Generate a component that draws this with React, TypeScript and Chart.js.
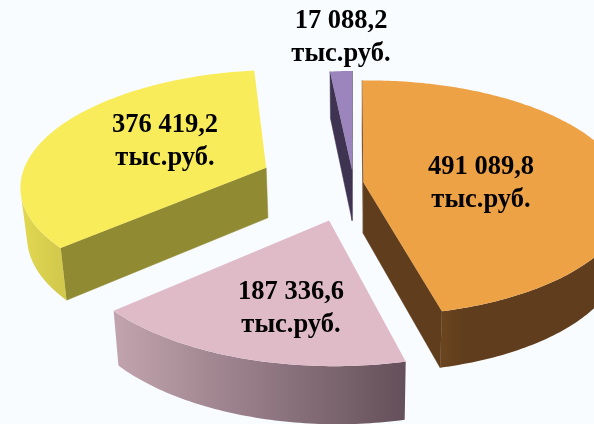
import React, { useEffect, useRef } from "react";
import { Chart, registerables } from "chart.js";

Chart.register(...registerables);

// Data (тыс.руб.)
const categories = ["Оранжевый", "Розовый", "Жёлтый", "Фиолетовый"];
const values = [491089.8, 187336.6, 376419.2, 17088.2];
const unitLabel = "тыс.руб.";

// Styles
const topColors = ["#EEA246", "#DFBBC8", "#F9EC5A", "#9C85BC"];
const radialColors = ["#603D1D", "#8C7680", "#908A33", "#3F3352"];
const wallStops = [
  ["#6A451F", "#603D1D"],
  ["#C2A4AE", "#64505A"],
  ["#E2D850", "#D2C94D"],
  ["#3F3352", "#3F3352"],
];
const wallFade = [0.12, 1, 1, 1];
const explode = [10, 83, 96, 29];
const labelCenters = [
  [481, 183],
  [291, 308],
  [165, 141],
  [341, 37],
];

const W = 594;
const H = 424;
const BG = "#F8FCFF";
const VIEW = { cx: 353.5, cy: 183, radius: 256, tilt: 0.4516, dist: 1925, sideDist: 11000, depth: 51, shrink: 0.98 };

function project(X: number, Z: number, lower: boolean): [number, number] {
  const s = 1 / (1 - Z / VIEW.dist - X / VIEW.sideDist);
  const f = lower ? VIEW.shrink : 1;
  return [
    VIEW.cx + X * s * f,
    VIEW.cy + VIEW.tilt * Z * s * f + (lower ? VIEW.depth * s : 0),
  ];
}

function area(pts: [number, number][]) {
  let a = 0;
  for (let i = 0; i < pts.length; i++) {
    const p = pts[i];
    const q = pts[(i + 1) % pts.length];
    a += p[0] * q[1] - q[0] * p[1];
  }
  return a / 2;
}

function fillPoly(ctx: CanvasRenderingContext2D, pts: [number, number][], fill: any) {
  ctx.beginPath();
  pts.forEach((p, i) => (i ? ctx.lineTo(p[0], p[1]) : ctx.moveTo(p[0], p[1])));
  ctx.closePath();
  ctx.fillStyle = fill;
  ctx.fill();
}

function formatValue(v: number) {
  const [a, b] = v.toFixed(1).split(".");
  return a.replace(/\B(?=(\d{3})+$)/g, " ") + "," + b;
}

const pie3d = {
  id: "pie3d",
  beforeDatasetsDraw(chart: any) {
    const ctx: CanvasRenderingContext2D = chart.ctx;
    const arcs = chart.getDatasetMeta(0).data;
    ctx.save();
    ctx.fillStyle = BG;
    ctx.fillRect(0, 0, W, H);
    [3, 2, 0, 1].forEach((i) => {
      const arc = arcs[i];
      const { startAngle, endAngle } = arc.getProps(["startAngle", "endAngle"], true);
      const mid = (startAngle + endAngle) / 2;
      const e = arc.options.offset;
      const ox = e * Math.cos(mid);
      const oz = e * Math.sin(mid);
      const n = Math.max(4, Math.ceil((endAngle - startAngle) * 60));
      const rim: [number, number][] = [];
      for (let k = 0; k <= n; k++) {
        const t = startAngle + ((endAngle - startAngle) * k) / n;
        rim.push([ox + VIEW.radius * Math.cos(t), oz + VIEW.radius * Math.sin(t)]);
      }
      const topOf = (p: [number, number]) => project(p[0], p[1], false);
      const botOf = (p: [number, number]) => project(p[0], p[1], true);
      const apex: [number, number] = [ox, oz];

      // radial faces
      const faces: [number, number][][] = [
        [apex, rim[0]],
        [rim[n], apex],
      ];
      faces.forEach(([a, b]) => {
        const q = [topOf(a), topOf(b), botOf(b), botOf(a)];
        if (area(q) < 0) {
          fillPoly(ctx, q, radialColors[i]);
          ctx.strokeStyle = radialColors[i];
          ctx.lineWidth = 0.5;
          ctx.stroke();
        }
      });

      // outer wall
      const upper: [number, number][] = [];
      const lower: [number, number][] = [];
      for (let k = 0; k < n; k++) {
        const q = [topOf(rim[k]), topOf(rim[k + 1]), botOf(rim[k + 1]), botOf(rim[k])];
        if (area(q) < 0) {
          if (!upper.length) {
            upper.push(q[0]);
            lower.push(q[3]);
          }
          upper.push(q[1]);
          lower.push(q[2]);
        }
      }
      if (upper.length) {
        const xs = upper.map((p) => p[0]);
        const g = ctx.createLinearGradient(Math.min(...xs), 0, Math.max(...xs), 0);
        g.addColorStop(0, wallStops[i][0]);
        g.addColorStop(wallFade[i], wallStops[i][1]);
        fillPoly(ctx, [...upper, ...lower.reverse()], g);
      }

      // top surface
      fillPoly(ctx, [topOf(apex), ...rim.map(topOf)], arc.options.backgroundColor);
    });
    ctx.restore();
    return false;
  },
  afterDraw(chart: any) {
    const ctx: CanvasRenderingContext2D = chart.ctx;
    ctx.save();
    ctx.font = 'bold 26.5px "Liberation Serif"';
    ctx.fillStyle = "#000000";
    ctx.textAlign = "center";
    ctx.textBaseline = "middle";
    values.forEach((v, i) => {
      const [x, y] = labelCenters[i];
      ctx.fillText(formatValue(v), x, y - 16);
      ctx.fillText(unitLabel, x, y + 17);
    });
    ctx.restore();
  },
};

export default function App() {
  const ref = useRef<HTMLCanvasElement>(null);
  useEffect(() => {
    const chart = new Chart(ref.current as HTMLCanvasElement, {
      type: "pie",
      data: {
        labels: categories,
        datasets: [
          {
            data: values,
            backgroundColor: topColors,
            offset: explode,
            borderWidth: 0,
          },
        ],
      },
      options: {
        responsive: false,
        animation: false,
        layout: { padding: 0 },
        plugins: { legend: { display: false }, tooltip: { enabled: false } },
      },
      plugins: [pie3d],
    } as any);
    return () => chart.destroy();
  }, []);
  return (
    <div style={{ position: "fixed", left: 0, top: 0, width: W, height: H, overflow: "hidden", background: BG }}>
      <canvas ref={ref} width={W} height={H} style={{ display: "block" }} />
    </div>
  );
}
